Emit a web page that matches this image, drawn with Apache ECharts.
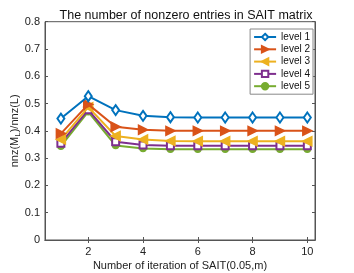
<!DOCTYPE html>
<html><head><meta charset="utf-8">
<script src="https://cdn.jsdelivr.net/npm/echarts@6/dist/echarts.min.js"></script>
<style>html,body{margin:0;padding:0;background:#fff}#c{width:354px;height:273px}</style>
</head><body><div id="c"></div>
<script>
const iterations = [1,2,3,4,5,6,7,8,9,10];
const level1 = [0.445,0.527,0.476,0.455,0.450,0.449,0.449,0.449,0.449,0.449];
const level2 = [0.390,0.497,0.415,0.404,0.400,0.400,0.400,0.400,0.400,0.400];
const level3 = [0.368,0.487,0.381,0.368,0.363,0.362,0.362,0.362,0.362,0.362];
const level4 = [0.355,0.477,0.360,0.348,0.345,0.345,0.345,0.345,0.345,0.345];
const level5 = [0.344,0.470,0.346,0.335,0.333,0.333,0.333,0.333,0.333,0.333];
const seriesNames = ['level 1','level 2','level 3','level 4','level 5'];
const xTicks = [2,4,6,8,10];
const yTicks = [0,0.1,0.2,0.3,0.4,0.5,0.6,0.7,0.8];

const colors = ['#0072BD','#D95319','#EDB120','#7E2F8E','#77AC30'];
const symbols = ['emptyDiamond','triangle','triangle','emptyRect','circle'];
const rotations = [0,-90,90,0,0];
const sizes = [[7,10],9,9,7,6];
const allData = [level1,level2,level3,level4,level5];
const axisColor = '#555';
const font = 'Liberation Sans, Arial, sans-serif';

const chart = echarts.init(document.getElementById('c'), null, {renderer:'canvas'});
const series = allData.map((d,i)=>({
  name: seriesNames[i], type:'line',
  data: d.map((v,j)=>[iterations[j],v]),
  symbol: symbols[i], symbolSize: sizes[i], symbolRotate: rotations[i],
  showAllSymbol: true,
  lineStyle:{color:colors[i], width:2},
  itemStyle:{color:colors[i], borderColor:colors[i], borderWidth:1.5},
  z: 10 - i,
  animation:false
}));

chart.setOption({
  animation:false,
  color: colors,
  title:{text:'The number of nonzero entries in SAIT matrix', left:181, textAlign:'center', top:4,
    textStyle:{fontFamily:font, fontSize:12.5, fontWeight:'normal', color:'#111'}},
  legend:{
    orient:'vertical', right: 41, top: 29,
    data: seriesNames,
    itemWidth: 22, itemHeight: 8, itemGap: 2.3,
    padding:[3,3,3,3],
    borderColor:'#888', borderWidth:1, backgroundColor:'#fff',
    textStyle:{fontFamily:font, fontSize:10, color:'#111'}
  },
  grid:{left:45, right:39, top:21.7, bottom:33, containLabel:false, outerBoundsMode:'none',
    show:true, borderColor:axisColor, borderWidth:1},
  xAxis:[{
    type:'value', min:0.42, max:10.28,
    name:'Number of iteration of SAIT(0.05,m)', nameLocation:'middle', nameGap:20, nameMoveOverlap:false,
    nameTextStyle:{fontFamily:font, fontSize:11, color:'#222'},
    axisLine:{show:true, lineStyle:{color:axisColor}},
    axisTick:{show:true, inside:true, length:3, customValues:xTicks, lineStyle:{color:axisColor}},
    axisLabel:{customValues:xTicks, fontFamily:font, fontSize:11, color:'#222', margin:6},
    splitLine:{show:false}
  },{
    type:'value', min:0.42, max:10.28, position:'top',
    axisLine:{show:true, lineStyle:{color:axisColor}},
    axisTick:{show:true, inside:true, length:3, customValues:xTicks, lineStyle:{color:axisColor}},
    axisLabel:{show:false}, splitLine:{show:false}
  }],
  yAxis:[{
    type:'value', min:0, max:0.8, interval:0.1,
    name:'{n|nnz(M}{s|L}{n|)/nnz(L)}', nameLocation:'middle', nameGap:23, nameRotate:90, nameMoveOverlap:false,
    nameTextStyle:{fontFamily:font, fontSize:11, color:'#222',
      rich:{n:{fontFamily:font,fontSize:11,color:'#222'}, s:{fontFamily:font,fontSize:8,color:'#222',verticalAlign:'top',padding:[7,0,0,0]}}},
    axisLine:{show:true, lineStyle:{color:axisColor}},
    axisTick:{show:true, inside:true, length:3, lineStyle:{color:axisColor}},
    axisLabel:{customValues:yTicks, fontFamily:font, fontSize:11, color:'#222', margin:5,
      formatter:v=>v===0?'0':v.toFixed(1)},
    splitLine:{show:false}
  },{
    type:'value', min:0, max:0.8, interval:0.1, position:'right',
    axisLine:{show:true, lineStyle:{color:axisColor}},
    axisTick:{show:true, inside:true, length:3, lineStyle:{color:axisColor}},
    axisLabel:{show:false}, splitLine:{show:false}
  }],
  series: series
});
</script></body></html>
